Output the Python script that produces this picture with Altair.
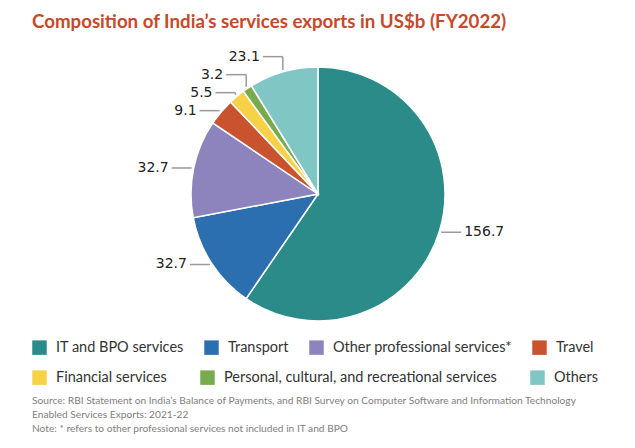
import math
import altair as alt
import pandas as pd

# ---------------- data ----------------
categories = [
    "IT and BPO services",
    "Transport",
    "Other professional services*",
    "Travel",
    "Financial services",
    "Personal, cultural, and recreational services",
    "Others",
]
values = [156.7, 32.7, 32.7, 9.1, 5.5, 3.2, 23.1]
value_labels = ["156.7", "32.7", "32.7", "9.1", "5.5", "3.2", "23.1"]
colors = ["#2a8b88", "#2c6fb1", "#8e84bd", "#c9522f", "#f7d247", "#78ab4f", "#80c6c4"]
legend_row = [1, 1, 1, 1, 2, 2, 2]

title_text = "Composition of India\u2019s services exports in US$b (FY2022)"
source_lines = [
    "Source: RBI Statement on India\u2019s Balance of Payments, and RBI Survey on Computer Software and Information Technology",
    "Enabled Services Exports: 2021-22",
    "Note: *  refers to other professional services not included in IT and BPO",
]

# ---------------- layout ----------------
W, H, PAD_TOP = 619, 388, 44
CX, CY, R = 310, 142, 127
LEAD = 20       # horizontal leader length
GAP = 3         # gap between leader and label
MIN_SEP = 18    # minimum vertical separation of labels

df = pd.DataFrame({"category": categories, "value": values,
                   "label": value_labels, "idx": range(len(values)),
                   "row": legend_row})

# label anchors derived from the slice mid-angles
total = sum(values)
cum = 0.0
info = []
for i, v in enumerate(values):
    mid = (cum + v / 2) / total * 2 * math.pi
    cum += v
    ex = CX + (R + 2) * math.sin(mid)
    ey = CY - (R + 2) * math.cos(mid)
    side = 1 if math.sin(mid) > 0 else -1
    info.append({"i": i, "ex": ex, "ey": ey, "side": side})

for s in (-1, 1):
    group = sorted([d for d in info if d["side"] == s], key=lambda d: -d["ey"])
    prev = float("inf")
    for d in group:
        d["ly"] = min(d["ey"], prev - MIN_SEP)
        prev = d["ly"]

seg_rows, lab_rows = [], []
for d in info:
    if abs(d["ly"] - d["ey"]) > 0.5:
        seg_rows.append({"x": d["ex"], "y": d["ey"], "x2": d["ex"], "y2": d["ly"]})
    seg_rows.append({"x": d["ex"], "y": d["ly"], "x2": d["ex"] + d["side"] * LEAD, "y2": d["ly"]})
    lab_rows.append({"x": d["ex"] + d["side"] * (LEAD + GAP), "y": d["ly"],
                     "text": value_labels[d["i"]], "side": d["side"]})
seg_df = pd.DataFrame(seg_rows)
lab_df = pd.DataFrame(lab_rows)

xs = alt.Scale(domain=[0, W], nice=False, zero=False)
ys = alt.Scale(domain=[H, 0], nice=False, zero=False)

row1 = [c for c, r in zip(categories, legend_row) if r == 1]
row2 = [c for c, r in zip(categories, legend_row) if r == 2]
col1 = [c for c, r in zip(colors, legend_row) if r == 1]
col2 = [c for c, r in zip(colors, legend_row) if r == 2]

pie = alt.Chart(df).mark_arc(outerRadius=R, stroke="white", strokeWidth=1.5).encode(
    theta=alt.Theta("value:Q", stack=True),
    order=alt.Order("idx:Q"),
    color=alt.Color("category:N", scale=alt.Scale(domain=categories, range=colors), legend=None),
    x=alt.value(CX),
    y=alt.value(CY),
)


def legend(y, pad):
    return alt.Legend(
        title=None, orient="none", legendX=24, legendY=y,
        direction="horizontal", columns=4,
        symbolType="square", symbolSize=210, symbolStrokeWidth=0, symbolOpacity=1,
        labelFont="Lato", labelFontSize=14.5, labelColor="#333333",
        labelOffset=9, columnPadding=pad, labelLimit=400,
    )


def legend_layer(row, dom, rng, y, pad):
    return alt.Chart(df).transform_filter(f"datum.row == {row}").mark_square(size=0, opacity=0).encode(
        fill=alt.Fill("category:N", scale=alt.Scale(domain=dom, range=rng), legend=legend(y, pad)),
        x=alt.value(CX), y=alt.value(CY),
    )


leg1 = legend_layer(1, row1, col1, 288, 20)
leg2 = legend_layer(2, row2, col2, 318, 33)

leaders = alt.Chart(seg_df).mark_rule(color="#9a9a9a", strokeWidth=1.5).encode(
    x=alt.X("x:Q", scale=xs, axis=None),
    y=alt.Y("y:Q", scale=ys, axis=None),
    x2="x2:Q", y2="y2:Q",
)

lab_left = alt.Chart(lab_df[lab_df.side < 0]).mark_text(
    align="right", baseline="middle", font="DejaVu Sans", fontSize=14, color="#222222"
).encode(x=alt.X("x:Q", scale=xs, axis=None), y=alt.Y("y:Q", scale=ys, axis=None), text="text:N")

lab_right = alt.Chart(lab_df[lab_df.side > 0]).mark_text(
    align="left", baseline="middle", font="DejaVu Sans", fontSize=14, color="#222222"
).encode(x=alt.X("x:Q", scale=xs, axis=None), y=alt.Y("y:Q", scale=ys, axis=None), text="text:N")

source = alt.Chart(pd.DataFrame({"t": ["\n".join(source_lines)]})).mark_text(
    align="left", baseline="top", font="Lato", fontSize=10.2, color="#808080",
    lineBreak="\n", lineHeight=14,
).encode(x=alt.value(24), y=alt.value(344), text="t:N")

chart = alt.layer(pie, leg1, leg2, leaders, lab_left, lab_right, source).resolve_scale(
    fill="independent"
).properties(
    width=W, height=H,
    autosize=alt.AutoSizeParams(type="none"),
    padding={"left": 0, "top": PAD_TOP, "right": 0, "bottom": 0},
    title=alt.TitleParams(
        title_text, anchor="start", dx=24, font="Lato", fontSize=18.7,
        fontWeight="bold", color="#c8482a", offset=18,
    ),
).configure_view(stroke=None)

chart.save("out.html", embed_options={"renderer": "svg", "actions": False})
